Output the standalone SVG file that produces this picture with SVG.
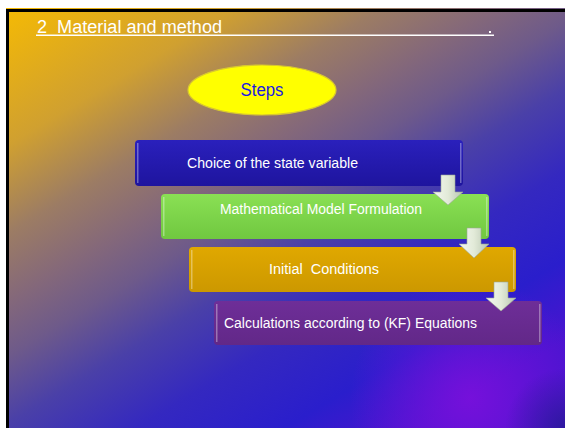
<svg xmlns="http://www.w3.org/2000/svg" width="565" height="428" viewBox="0 0 565 428">
  <defs>
    <linearGradient id="bg" gradientUnits="userSpaceOnUse" x1="0" y1="0" x2="300" y2="500">
      <stop offset="0" stop-color="#f8bc00"/>
      <stop offset="0.22" stop-color="#d0a030"/>
      <stop offset="0.35" stop-color="#9c7c64"/>
      <stop offset="0.45" stop-color="#84687a"/>
      <stop offset="0.53" stop-color="#6e5a8a"/>
      <stop offset="0.63" stop-color="#4a40a8"/>
      <stop offset="0.75" stop-color="#3428c0"/>
      <stop offset="0.88" stop-color="#2a1ecc"/>
      <stop offset="1" stop-color="#4a14d0"/>
    </linearGradient>
    <radialGradient id="purp" gradientUnits="userSpaceOnUse" cx="470" cy="398" r="120">
      <stop offset="0" stop-color="#7a10dc" stop-opacity="0.9"/>
      <stop offset="1" stop-color="#7a10dc" stop-opacity="0"/>
    </radialGradient>
    <radialGradient id="corner" gradientUnits="userSpaceOnUse" cx="565" cy="428" r="60">
      <stop offset="0" stop-color="#2a189a" stop-opacity="0.9"/>
      <stop offset="1" stop-color="#2a189a" stop-opacity="0"/>
    </radialGradient>
    <linearGradient id="arrowFill" x1="0" y1="0" x2="1" y2="0">
      <stop offset="0" stop-color="#f4f8f0"/>
      <stop offset="0.5" stop-color="#e2ead8"/>
      <stop offset="1" stop-color="#b8c6b0"/>
    </linearGradient>
    <linearGradient id="gBlue" x1="0" y1="0" x2="0" y2="1">
      <stop offset="0" stop-color="#2a20bc"/>
      <stop offset="1" stop-color="#1e149e"/>
    </linearGradient>
    <linearGradient id="gGreen" x1="0" y1="0" x2="0" y2="1">
      <stop offset="0" stop-color="#8ae054"/>
      <stop offset="1" stop-color="#70c840"/>
    </linearGradient>
    <linearGradient id="gGold" x1="0" y1="0" x2="0" y2="1">
      <stop offset="0" stop-color="#e0a800"/>
      <stop offset="1" stop-color="#cc9800"/>
    </linearGradient>
    <linearGradient id="gPurple" x1="0" y1="0" x2="0" y2="1">
      <stop offset="0" stop-color="#6e2e98"/>
      <stop offset="1" stop-color="#622888"/>
    </linearGradient>
  </defs>
  <style>
    text { white-space: pre; }
    .boxtxt { font-family: "Liberation Sans", Arial, sans-serif; font-size: 14px; fill: #ffffff; }
    .title { font-family: "Liberation Sans", Arial, sans-serif; font-size: 18px; fill: #ffffff; }
    .steps { font-family: "Liberation Sans", Arial, sans-serif; font-size: 18px; fill: #1a1ae0; }
    .hl { fill: #ffffff; opacity: 0.35; }
    .arrow { fill: url(#arrowFill); stroke: #9aa894; stroke-width: 0.6; }
  </style>

  <rect x="0" y="0" width="565" height="428" fill="#ffffff"/>
  <rect x="6" y="8" width="559" height="420" fill="url(#bg)"/>
  <rect x="6" y="8" width="559" height="420" fill="url(#purp)"/>
  <rect x="6" y="8" width="559" height="420" fill="url(#corner)"/>
  <rect x="6" y="9" width="559" height="3" fill="#000000"/>
  <rect x="6" y="9" width="3" height="419" fill="#000000"/>

  <g id="title">
    <text class="title" x="37" y="33" textLength="185" lengthAdjust="spacingAndGlyphs" xml:space="preserve">2  Material and method</text>
    <rect x="36" y="34.5" width="458" height="1.5" fill="#ffffff"/>
    <rect x="489" y="31" width="2" height="2" fill="#ffffff"/>
  </g>

  <g id="steps">
    <ellipse cx="262" cy="90" rx="74" ry="25" fill="#ffff00" stroke="#d8c830" stroke-width="1.2"/>
    <text class="steps" x="262" y="96" text-anchor="middle" textLength="43" lengthAdjust="spacingAndGlyphs">Steps</text>
  </g>

  <g id="box1">
    <rect x="135" y="140" width="328" height="46" rx="4" fill="url(#gBlue)"/>
    <rect class="hl" x="137" y="143" width="1.5" height="40"/>
    <rect class="hl" x="460" y="143" width="1.5" height="40"/>
    <text class="boxtxt" x="187" y="168" textLength="171" lengthAdjust="spacingAndGlyphs">Choice of the state variable</text>
  </g>

  <g id="box2">
    <rect x="161" y="194" width="328" height="45" rx="4" fill="url(#gGreen)"/>
    <rect class="hl" x="163" y="197" width="1.5" height="39"/>
    <rect class="hl" x="486" y="197" width="1.5" height="39"/>
    <text class="boxtxt" x="220" y="214" textLength="202" lengthAdjust="spacingAndGlyphs">Mathematical Model Formulation</text>
  </g>

  <g id="box3">
    <rect x="189" y="247" width="327" height="45" rx="4" fill="url(#gGold)"/>
    <rect class="hl" x="191" y="250" width="1.5" height="39"/>
    <rect class="hl" x="513" y="250" width="1.5" height="39"/>
    <text class="boxtxt" x="269" y="274" textLength="110" lengthAdjust="spacingAndGlyphs" xml:space="preserve">Initial  Conditions</text>
  </g>

  <g id="box4">
    <rect x="214" y="301" width="328" height="44" rx="4" fill="url(#gPurple)"/>
    <rect class="hl" x="216" y="304" width="1.5" height="38"/>
    <rect class="hl" x="539" y="304" width="1.5" height="38"/>
    <text class="boxtxt" x="224" y="328" textLength="253" lengthAdjust="spacingAndGlyphs">Calculations according to (KF) Equations</text>
  </g>

  <g id="connectors">
    <path class="arrow" d="M441,175 H455 V192 H463 L448,205 L433,192 H441 Z"/>
    <path class="arrow" d="M467,228 H481 V244 H489 L474,258 L459,244 H467 Z"/>
    <path class="arrow" d="M494,282 H508 V298 H516 L501,311 L486,298 H494 Z"/>
  </g>
</svg>
